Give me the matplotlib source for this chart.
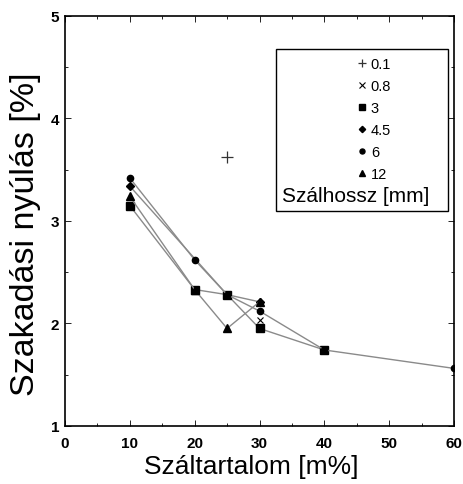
import numpy as np
import matplotlib.pyplot as plt
from matplotlib.patches import Rectangle

# %% Data ---------------------------------------------------------------------

# fibre length series [mm]: fibre content [m%] and elongation at break [%]
x_01 = [25]
y_01 = [3.62]

x_08 = [30]
y_08 = [2.03]

x_3 = [10, 20, 25, 30, 40]
y_3 = [3.15, 2.33, 2.28, 1.95, 1.74]

x_45 = [10, 25, 30]
y_45 = [3.34, 2.28, 2.21]

x_6 = [10, 20, 25, 30, 40, 60]
y_6 = [3.42, 2.62, 2.28, 2.12, 1.74, 1.56]

x_12 = [10, 20, 25, 30]
y_12 = [3.24, 2.33, 1.95, 2.21]

labels = ['0.1', '0.8', '3', '4.5', '6', '12']

# %% Plot ---------------------------------------------------------------------

plt.rcParams['font.family'] = ['Liberation Sans', 'DejaVu Sans']

fig = plt.figure(figsize=(4.63, 4.85), dpi=100)
ax = fig.add_axes([0.140, 0.120, 0.841, 0.845])

line_kw = dict(color='#8a8a8a', lw=1.0, mfc='black', mec='black')

h01, = ax.plot(x_01, y_01, ls='none', marker='+', ms=8, mew=0.9,
               mec='#333333')
h08, = ax.plot(x_08, y_08, marker='x', ms=5, mew=0.8, **line_kw)
h3, = ax.plot(x_3, y_3, marker='s', ms=6, **line_kw)
h45, = ax.plot(x_45, y_45, marker='D', ms=4, **line_kw)
h6, = ax.plot(x_6, y_6, marker='o', ms=4.5, **line_kw)
h12, = ax.plot(x_12, y_12, marker='^', ms=5.5, **line_kw)

ax.set_xlim(0, 60)
ax.set_ylim(1, 5)
ax.set_xticks(np.arange(0, 61, 10))
ax.set_xticks(np.arange(0, 61, 5), minor=True)
ax.set_yticks(np.arange(1, 6, 1))
ax.set_yticks(np.arange(1, 5.01, 0.5), minor=True)
ax.tick_params(which='both', direction='in', top=True, right=True,
               width=0.6, labelsize=11)
ax.tick_params(which='major', length=4)
ax.tick_params(which='minor', length=2)
for lab in ax.get_xticklabels() + ax.get_yticklabels():
    lab.set_fontweight('bold')
ax.tick_params(axis='x', pad=7)
ax.tick_params(axis='y', pad=4)
for sp in ax.spines.values():
    sp.set_linewidth(1.2)

ax.set_xlabel('Száltartalom [m%]', fontsize=19)
ax.xaxis.set_label_coords(0.48, -0.07)
ax.set_ylabel('Szakadási nyúlás [%]', fontsize=24.5)
ax.yaxis.set_label_coords(-0.06, 0.47)

# legend with its title underneath, inside a framed box
ax.add_patch(Rectangle((0.542, 0.524), 0.443, 0.396, transform=ax.transAxes,
                       fill=False, lw=1.0, ec='black', zorder=5))
handles = []
for h in [h01, h08, h3, h45, h6, h12]:
    hh, = ax.plot([], [], ls='none', marker=h.get_marker(),
                  ms=h.get_markersize() * 0.8, mew=h.get_markeredgewidth(),
                  mfc='black', mec=h.get_markeredgecolor())
    handles.append(hh)
leg = ax.legend(handles, labels, loc='upper left',
                bbox_to_anchor=(0.737, 0.915), frameon=False, fontsize=10.5,
                handlelength=0.6, handletextpad=0.3, labelspacing=0.56,
                borderaxespad=0)
ax.text(0.748, 0.563, 'Szálhossz [mm]', transform=ax.transAxes,
        ha='center', va='center', fontsize=15)

fig.savefig('out.png', dpi=100)
